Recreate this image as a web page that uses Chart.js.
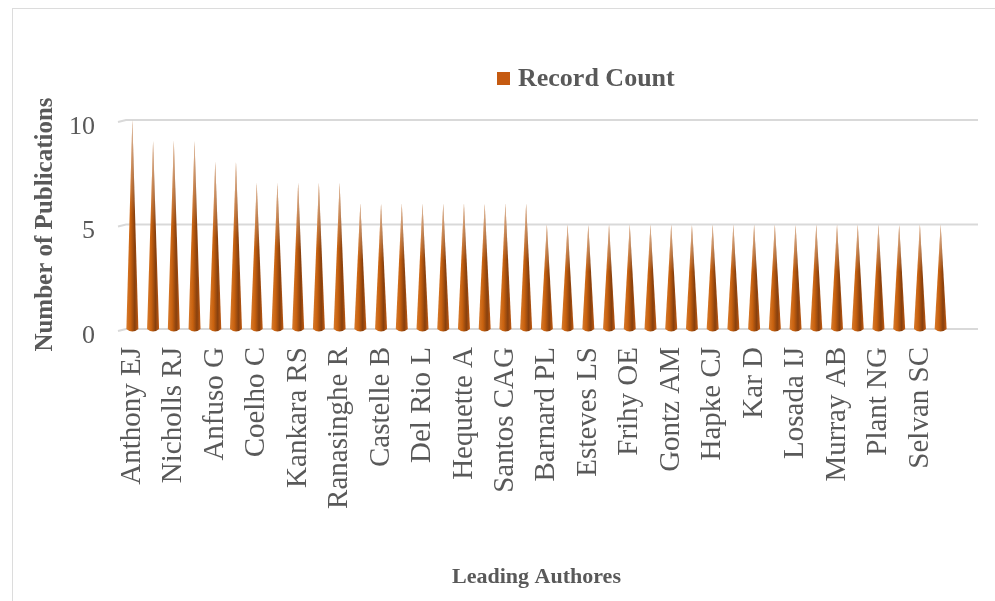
<!DOCTYPE html>
<html>
<head>
<meta charset="utf-8">
<script src="https://cdn.jsdelivr.net/npm/chart.js@4.4.1/dist/chart.umd.min.js"></script>
<style>
  html, body { margin: 0; padding: 0; background: #fff; }
  #wrap { position: relative; width: 995px; height: 601px; overflow: hidden; }
  #frame { position: absolute; left: 12px; top: 8px; width: 1000px; height: 620px;
           border-left: 1.5px solid #dcdcdc; border-top: 1.5px solid #dcdcdc; }
  canvas { position: absolute; left: 0; top: 0; }
</style>
</head>
<body>
<div id="wrap">
  <div id="frame"></div>
  <canvas id="authorsChart" width="995" height="601"></canvas>
</div>
<script>
// authors (only every other name is printed on the original axis, the rest are blank)
const authors = [
  "Anthony EJ", "", "Nicholls RJ", "", "Anfuso G", "", "Coelho C", "", "Kankara RS", "",
  "Ranasinghe R", "", "Castelle B", "", "Del Rio L", "", "Hequette A", "", "Santos CAG", "",
  "Barnard PL", "", "Esteves LS", "", "Frihy OE", "", "Gontz AM", "", "Hapke CJ", "",
  "Kar D", "", "Losada IJ", "", "Murray AB", "", "Plant NG", "", "Selvan SC", ""
];
const recordCount = [
  10, 9, 9, 9, 8, 8, 7, 7, 7, 7,
  7, 6, 6, 6, 6, 6, 6, 6, 6, 6,
  5, 5, 5, 5, 5, 5, 5, 5, 5, 5,
  5, 5, 5, 5, 5, 5, 5, 5, 5, 5
];
const yTicks = [0, 5, 10];
const seriesName = "Record Count";

const serif = "'Liberation Serif', 'Times New Roman', serif";
const textGray = "#595959";
const coneColor = "#C55A11";

// gridlines, a bit wider than the plot like the 3D floor in the original
const gridPlugin = {
  id: "gridLines",
  beforeDatasetsDraw(chart) {
    const {ctx, chartArea, scales} = chart;
    ctx.save();
    ctx.strokeStyle = "#d9d9d9";
    ctx.lineWidth = 2;
    scales.y.ticks.forEach(t => {
      const y = scales.y.getPixelForValue(t.value);
      ctx.beginPath();
      ctx.moveTo(chartArea.left - 4, y + 2);
      ctx.lineTo(chartArea.left + 4, y);
      ctx.lineTo(chartArea.right + 27, y);
      ctx.stroke();
    });
    ctx.restore();
  }
};

// each bar is painted as a cone
const conePlugin = {
  id: "cones",
  afterDatasetsDraw(chart) {
    const ctx = chart.ctx;
    chart.getDatasetMeta(0).data.forEach(bar => {
      const half = 6;
      const x = bar.x, top = bar.y, base = bar.base;
      const g = ctx.createLinearGradient(x - half, 0, x + half, 0);
      g.addColorStop(0, "#d77a2c");
      g.addColorStop(0.35, "#c9620f");
      g.addColorStop(0.7, "#87400e");
      g.addColorStop(1, "#c25b12");
      ctx.save();
      ctx.beginPath();
      ctx.moveTo(x - half, base);
      ctx.lineTo(x, top);
      ctx.lineTo(x + half, base);
      ctx.quadraticCurveTo(x, base + 5, x - half, base);
      ctx.closePath();
      ctx.fillStyle = g;
      ctx.fill();
      // lighter tip
      const v = ctx.createLinearGradient(0, top, 0, top + (base - top) * 0.45);
      v.addColorStop(0, "rgba(255,255,255,0.6)");
      v.addColorStop(1, "rgba(255,255,255,0)");
      ctx.fillStyle = v;
      ctx.fill();
      ctx.restore();
    });
  }
};

// legend sits off-centre in the original, so it is drawn here
const legendPlugin = {
  id: "sideLegend",
  afterDraw(chart) {
    const ctx = chart.ctx;
    ctx.save();
    ctx.fillStyle = coneColor;
    ctx.fillRect(497, 72, 13, 13);
    ctx.fillStyle = textGray;
    ctx.font = "bold 26px " + serif;
    ctx.textBaseline = "middle";
    ctx.fillText(chart.data.datasets[0].label, 518, 79);
    ctx.restore();
  }
};

const chart = new Chart(document.getElementById("authorsChart").getContext("2d"), {
  type: "bar",
  data: {
    labels: authors,
    datasets: [{
      label: seriesName,
      data: recordCount,
      backgroundColor: "rgba(0,0,0,0)",
      borderWidth: 0
    }]
  },
  options: {
    responsive: false,
    animation: false,
    layout: { padding: { top: 120, left: 27, right: 44, bottom: 0 } },
    plugins: {
      legend: { display: false },
      tooltip: { enabled: false }
    },
    scales: {
      x: {
        grid: { display: false, drawTicks: false },
        border: { display: false },
        ticks: {
          autoSkip: false,
          maxRotation: 90,
          minRotation: 90,
          padding: 18,
          color: textGray,
          font: { family: serif, size: 29 }
        },
        title: {
          display: true,
          text: "Leading Authores",
          color: textGray,
          padding: { top: 4, bottom: 10 },
          font: { family: serif, size: 22, weight: "bold" }
        },
        afterFit(scale) { scale.height = 272; }
      },
      y: {
        min: 0,
        max: 10,
        grid: { display: false, drawTicks: false },
        border: { display: false },
        afterBuildTicks(scale) { scale.ticks = yTicks.map(v => ({ value: v })); },
        ticks: {
          padding: 27,
          labelOffset: 7,
          color: textGray,
          font: { family: serif, size: 26 }
        },
        title: {
          display: true,
          text: "Number of Publications",
          color: textGray,
          padding: { top: 4, bottom: 4 },
          font: { family: serif, size: 25, weight: "bold" }
        },
        afterFit(scale) { scale.width = 95; }
      }
    }
  },
  plugins: [gridPlugin, conePlugin, legendPlugin]
});
</script>
</body>
</html>
